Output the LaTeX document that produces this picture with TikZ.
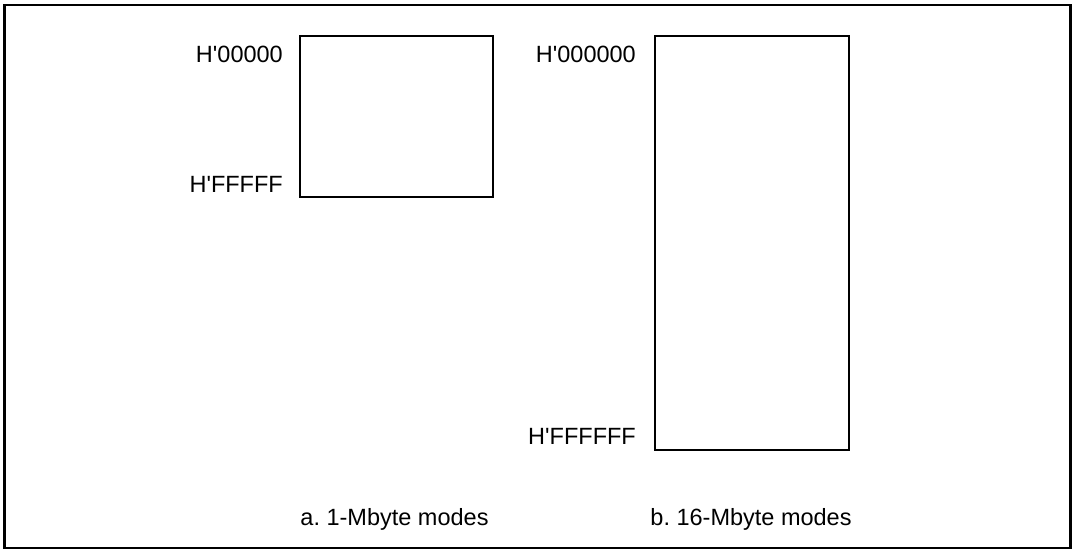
\documentclass[tikz,border=0pt]{standalone}
\usepackage{fontspec}
\newfontfamily\arialfont{Liberation Sans}[Ligatures=ResetAll]
\frenchspacing
\begin{document}
\begin{tikzpicture}[x=1pt,y=-1pt,
  lbl/.style={inner sep=0pt,font=\arialfont\fontsize{23.5}{28}\selectfont},
  membox/.style={draw,line width=1.2pt,inner sep=0pt,fill=white}]
\useasboundingbox (0,0) rectangle (1075,553);
\draw[line width=2.6pt] (4.5,5) rectangle (1070.5,548);
\node[membox,minimum width=193pt,minimum height=161pt] (memA) at (396.5,116.5) {};
\node[membox,minimum width=194pt,minimum height=414pt] (memB) at (752,243) {};
\node[lbl,anchor=base east] (a0) at (283,63) {H'00000};
\node[lbl,anchor=base east] (aF) at (283,193) {H'FFFFF};
\node[lbl,anchor=base east] (b0) at (636,63) {H'000000};
\node[lbl,anchor=base east] (bF) at (636,444) {H'FFFFFF};
\node[lbl,anchor=base] (capA) at (394.5,525) {a. 1-Mbyte modes};
\node[lbl,anchor=base] (capB) at (751,525) {b. 16-Mbyte modes};
\end{tikzpicture}
\end{document}
